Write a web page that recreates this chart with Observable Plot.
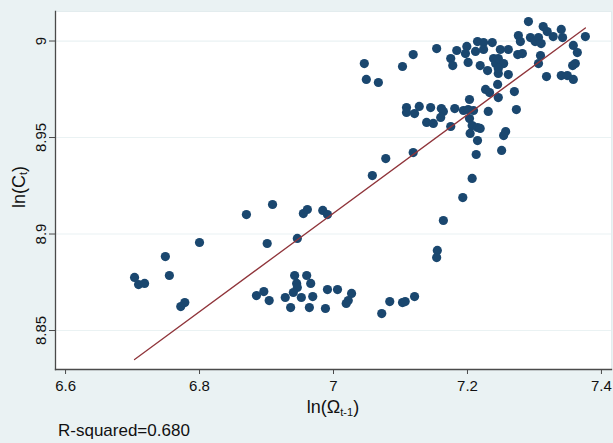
<!DOCTYPE html>
<html>
<head>
<meta charset="utf-8">
<script src="https://cdn.jsdelivr.net/npm/d3@7"></script>
<script src="https://cdn.jsdelivr.net/npm/@observablehq/plot@0.6"></script>
<style>
  html, body { margin: 0; padding: 0; background: #eaf2f3; }
  #chart svg { display: block; background: #eaf2f3; }
  #caption { font-family: "Liberation Sans", Arial, sans-serif; font-size: 17px; line-height: 25px; height: 25px; padding-left: 58px; color: #111; }
</style>
</head>
<body>
<div id="chart"></div>
<div id="caption">R-squared=0.680</div>
<script>
// ln(Omega_{t-1})
const lnOmega = [
  6.703, 6.709, 6.718, 6.749, 6.755, 6.800, 6.772, 6.778,
  6.870, 6.909, 6.901, 6.946, 6.955, 6.961, 6.984, 6.991, 7.058, 7.078,
  6.885, 6.896, 6.904, 6.928, 6.936, 6.942, 6.960, 6.945, 6.946, 6.940,
  6.966, 6.952, 6.964, 6.969, 6.988, 6.991, 7.006, 7.027, 7.022, 7.019,
  7.072, 7.084, 7.103, 7.107, 7.121,
  7.046, 7.049, 7.067, 7.103, 7.119, 7.154, 7.184, 7.175, 7.178, 7.199,
  7.197, 7.201, 7.212, 7.215, 7.224, 7.224, 7.237, 7.219, 7.230, 7.239,
  7.242, 7.246, 7.227, 7.233, 7.245, 7.203,
  7.109, 7.109, 7.121, 7.128, 7.145, 7.161, 7.164, 7.160, 7.139, 7.149,
  7.181, 7.194, 7.201, 7.209, 7.175, 7.203, 7.207, 7.215, 7.219, 7.204,
  7.215, 7.231, 7.119, 7.213, 7.251, 7.254, 7.257,
  7.291, 7.313, 7.319, 7.276, 7.279, 7.294, 7.301, 7.306, 7.310, 7.328,
  7.340, 7.342, 7.376, 7.358, 7.364, 7.275, 7.282, 7.309, 7.306, 7.249,
  7.261, 7.246, 7.254, 7.246, 7.261, 7.357, 7.361, 7.318, 7.340, 7.349,
  7.358, 7.270, 7.246, 7.273,
  7.207, 7.193, 7.164, 7.155, 7.154
];
// ln(C_t)
const lnC = [
  8.8775, 8.8738, 8.8744, 8.8883, 8.8785, 8.8956, 8.8624, 8.8645,
  8.9101, 8.9153, 8.8951, 8.8977, 8.9106, 8.9127, 8.9122, 8.9101, 8.9303, 8.9391,
  8.8681, 8.8702, 8.8655, 8.8671, 8.8619, 8.8785, 8.8785, 8.8744, 8.8723, 8.8697,
  8.8744, 8.8671, 8.8619, 8.8676, 8.8614, 8.8712, 8.8712, 8.8692, 8.8655, 8.8640,
  8.8588, 8.8650, 8.8645, 8.8650, 8.8676,
  8.9883, 8.9801, 8.9785, 8.9868, 8.9930, 8.9961, 8.9951, 8.9909, 8.9873, 8.9972,
  8.9935, 8.9889, 8.9946, 8.9997, 8.9992, 8.9956, 8.9992, 8.9873, 8.9847, 8.9909,
  8.9883, 8.9832, 8.9749, 8.9733, 8.9775, 8.9697,
  8.9655, 8.9630, 8.9624, 8.9661, 8.9655, 8.9650, 8.9635, 8.9604, 8.9578, 8.9573,
  8.9650, 8.9640, 8.9645, 8.9640, 8.9557, 8.9598, 8.9562, 8.9552, 8.9547, 8.9521,
  8.9484, 8.9635, 8.9422, 8.9412, 8.9433, 8.9510, 8.9531,
  9.0101, 9.0075, 9.0049, 9.0028, 8.9997, 9.0018, 8.9997, 9.0018, 8.9987, 9.0023,
  9.0060, 9.0018, 9.0023, 8.9977, 8.9940, 8.9930, 8.9935, 8.9925, 8.9883, 8.9956,
  8.9956, 8.9909, 8.9883, 8.9858, 8.9826, 8.9873, 8.9883, 8.9816, 8.9821, 8.9821,
  8.9801, 8.9738, 8.9707, 8.9645,
  8.9288, 8.9189, 8.9070, 8.8915, 8.8878
];
// Linear fit: lnC = intercept + slope * lnOmega
const fitIntercept = 7.1237;
const fitSlope = 0.2553;
const rSquared = "0.680";

const xTicks = [6.6, 6.8, 7, 7.2, 7.4];
const yTicks = [8.85, 8.9, 8.95, 9];
const xDomain = [6.585, 7.415];
const yDomain = [8.8298, 9.0153];

const points = lnOmega.map((x, i) => ({x, y: lnC[i]}));
const [xMin, xMax] = d3.extent(lnOmega);
const fitLine = [xMin, xMax].map(x => ({x, y: fitIntercept + fitSlope * x}));

const font = "Liberation Sans, Arial, sans-serif";
const axisColor = "#4a4a4a";

const chart = Plot.plot({
  width: 613,
  height: 418,
  marginLeft: 55,
  marginRight: 2,
  marginTop: 11,
  marginBottom: 49,
  style: {fontFamily: font, fontSize: "15px", color: "#111", background: "#eaf2f3"},
  x: {domain: xDomain, ticks: xTicks, tickFormat: d => String(d)},
  y: {domain: yDomain, ticks: yTicks, tickFormat: d => String(d)},
  marks: [
    Plot.frame({fill: "white", stroke: "#e3ecee"}),
    Plot.gridY(yTicks, {stroke: "#eaf2f3", strokeOpacity: 1, strokeWidth: 1.2}),
    Plot.dot(points, {x: "x", y: "y", r: 4.6, fill: "#1a476f", stroke: "none"}),
    Plot.line(fitLine, {x: "x", y: "y", stroke: "#90353b", strokeWidth: 1.3}),
    Plot.axisX(xTicks, {tickSize: 5, tickPadding: 6, stroke: axisColor, fill: "#111", tickFormat: d => String(d), label: null}),
    Plot.axisY(yTicks, {tickSize: 6, tickPadding: 4, tickRotate: -90, stroke: axisColor, fill: "#111", tickFormat: d => String(d), label: null}),
    Plot.frame({anchor: "left", stroke: axisColor, strokeWidth: 1.3}),
    Plot.frame({anchor: "bottom", stroke: axisColor, strokeWidth: 1.3})
  ]
});

const svg = d3.select(chart);
// y axis title ln(C_t)
const yt = svg.append("text")
  .attr("transform", "translate(20,187) rotate(-90)")
  .attr("text-anchor", "middle")
  .attr("dominant-baseline", "middle")
  .attr("font-family", font).attr("font-size", 18).attr("fill", "#111");
yt.append("tspan").text("ln(C");
yt.append("tspan").attr("font-size", 11).attr("dy", 4).text("t");
yt.append("tspan").attr("dy", -4).text(")");
// x axis title ln(Omega_{t-1})
const xt = svg.append("text")
  .attr("x", 333).attr("y", 413)
  .attr("text-anchor", "middle")
  .attr("font-family", font).attr("font-size", 18).attr("fill", "#111");
xt.append("tspan").text("ln(Ω");
xt.append("tspan").attr("font-size", 11).attr("dy", 3).text("t-1");
xt.append("tspan").attr("dy", -3).text(")");

document.getElementById("chart").appendChild(chart);
document.getElementById("caption").textContent = "R-squared=" + rSquared;
</script>
</body>
</html>
